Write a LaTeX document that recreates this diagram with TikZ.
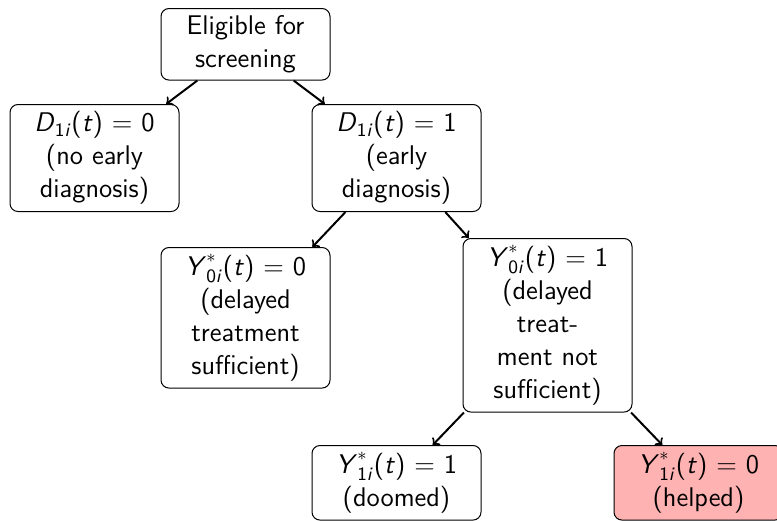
\documentclass[tikz,border=0pt]{standalone}
\usepackage{amsmath}
\usetikzlibrary{arrows}
\newcommand{\vv}[1]{\textit{#1}}
\begin{document}
\sffamily
\begin{tikzpicture}[x=0.5pt,y=-0.5pt,
  box/.style={draw, rounded corners=4pt, align=center, text width=74pt,
    minimum width=84.5pt, inner xsep=5pt, inner ysep=3.5pt, anchor=north,
    font=\fontsize{13.5}{16.5}\selectfont\sffamily, line width=0.5pt},
  helped/.style={box, fill=red!30},
  arr/.style={->, >=to, line width=1pt}]
\useasboundingbox (0,0) rectangle (777,520);
\clip (0,0) rectangle (777,520);
\node[box] (a) at (245.5,8) {Eligible for\\screening};
\node[box] (b) at (94.5,104) {\vv{D}\textsubscript{1\vv{i}}(\vv{t}) = 0\\(no early\\diagnosis)};
\node[box] (c) at (396.5,104) {\vv{D}\textsubscript{1\vv{i}}(\vv{t}) = 1\\(early\\diagnosis)};
\node[box] (d) at (245.5,247) {$\text{\vv{Y}}^{*}_{\text{0\vv{i}}}$(\vv{t}) = 0\\(delayed\\treatment\\sufficient)};
\node[box] (e) at (547.5,238) {$\text{\vv{Y}}^{*}_{\text{0\vv{i}}}$(\vv{t}) = 1\\(delayed\\treat-\\ment not\\sufficient)};
\node[box] (f) at (396.5,445) {$\text{\vv{Y}}^{*}_{\text{1\vv{i}}}$(\vv{t}) = 1\\(doomed)};
\node[helped] (g) at (698.5,445) {$\text{\vv{Y}}^{*}_{\text{1\vv{i}}}$(\vv{t}) = 0\\(helped)};
\draw[arr] (a) -- (b);
\draw[arr] (a) -- (c);
\draw[arr] (c) -- (d);
\draw[arr] (c) -- (e);
\draw[arr] (e) -- (f);
\draw[arr] (e) -- (g);
\end{tikzpicture}
\end{document}
